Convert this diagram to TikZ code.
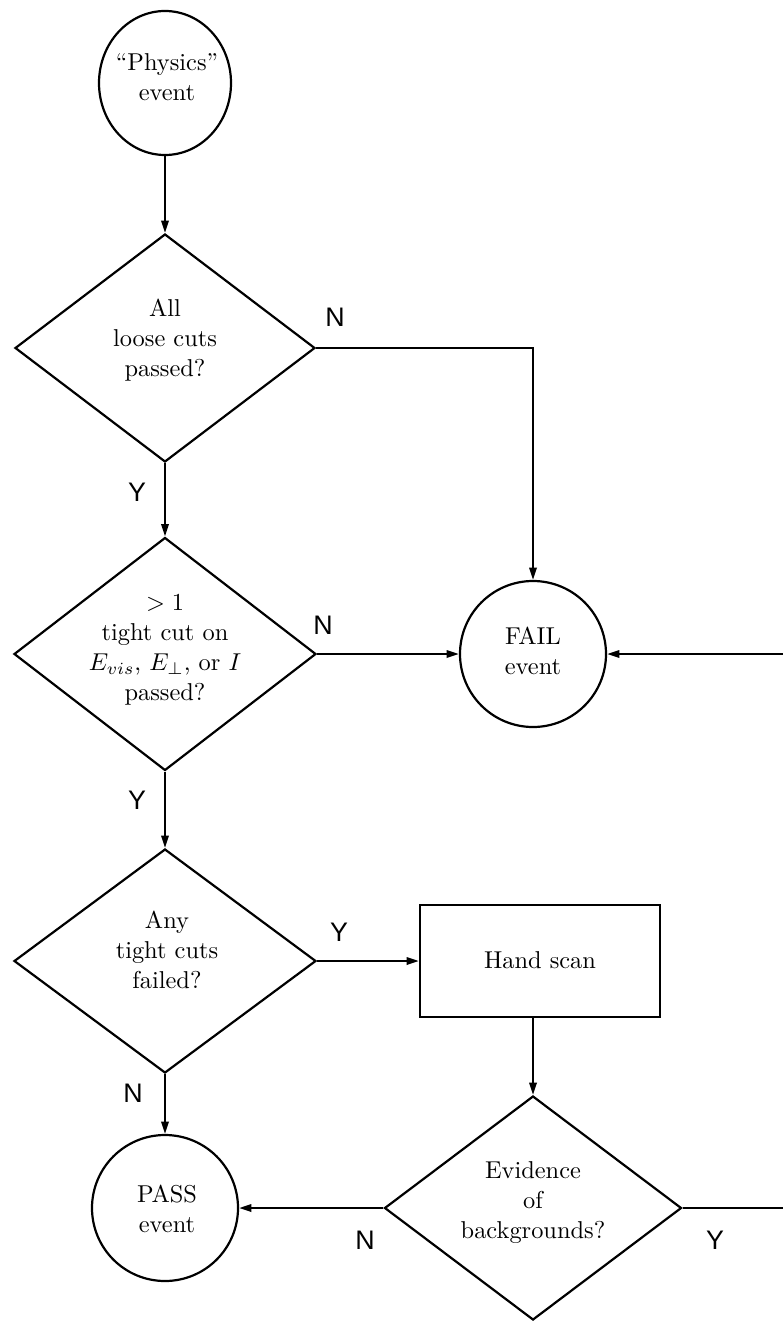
\documentclass[tikz,border=0pt]{standalone}
\usepackage{fontspec}
\newfontfamily\labelfont{Liberation Sans}
\usetikzlibrary{shapes.geometric,arrows.meta}

\begin{document}
\begin{tikzpicture}[x=0.41pt,y=-0.41pt,
  line width=0.9pt,
  flow/.style={-{Triangle[length=5pt,width=3pt]}},
  dia/.style={draw,diamond,inner sep=0pt},
  txt/.style={align=center,font=\fontsize{10}{12.3}\selectfont,inner sep=0pt},
  yn/.style={font=\labelfont\fontsize{11}{13}\selectfont,inner sep=0pt},
  ev/.style={draw,circle,inner sep=0pt,minimum size=146*0.41pt}]

\useasboundingbox (0,0) rectangle (783,1321);

% shapes
\node[draw,ellipse,inner sep=0pt,minimum width=132*0.41pt,minimum height=144*0.41pt] (phys) at (165,83) {};
\node[dia,minimum width=300*0.41pt,minimum height=228*0.41pt] (d1) at (165,348) {};
\node[dia,minimum width=302*0.41pt,minimum height=233*0.41pt] (d2) at (165,654) {};
\node[dia,minimum width=302*0.41pt,minimum height=224*0.41pt] (d3) at (165,961) {};
\node[dia,minimum width=297*0.41pt,minimum height=224*0.41pt] (d4) at (533,1208) {};
\node[ev] (fail) at (533,654) {};
\node[ev] (pass) at (165,1208) {};
\node[draw,rectangle,inner sep=0pt,minimum width=240*0.41pt,minimum height=112*0.41pt] (hand) at (540,961) {};

% texts
\node[txt] (tphys) at (167,77) {``Physics''\\event};
\node[txt] (t1) at (165,340) {All\\loose cuts\\passed?};
\node[txt] (t2) at (165,650) {$>1$\\tight cut on\\$E_{vis}$, $E_{\perp}$, or $I$\\passed?};
\node[txt] (t3) at (167,950) {Any\\tight cuts\\failed?};
\node[txt] (t4) at (533,1203) {Evidence\\of\\backgrounds?};
\node[txt] (tfail) at (533,651) {FAIL\\event};
\node[txt] (tpass) at (167,1209) {PASS\\event};
\node[txt] (thand) at (540,960) {Hand scan};

% free ends at the right margin
\coordinate (rin) at (783,654);
\coordinate (rout) at (783,1208);

% connectors
\draw[flow] (phys.south) -- (d1.north);
\draw[flow] (d1.east) -| (fail.north);
\draw[flow] (d1.south) -- (d2.north);
\draw[flow] (d2.east) -- (fail.west);
\draw[flow] (rin) -- (fail.east);
\draw[flow] (d2.south) -- (d3.north);
\draw[flow] (d3.east) -- (hand.west |- d3.east);
\draw[flow] (hand.south -| d4.north) -- (d4.north);
\draw (d4.east) -- (rout);
\draw[flow] (d4.west) -- (pass.east);
\draw[flow] (d3.south) -- (pass.north);

% branch labels
\node[yn] (n1) at (335,317) {N};
\node[yn] (y1) at (137,492) {Y};
\node[yn] (n2) at (323,625) {N};
\node[yn] (y2) at (137,800) {Y};
\node[yn] (y3) at (339,932) {Y};
\node[yn] (n3) at (133,1093) {N};
\node[yn] (n4) at (365,1240) {N};
\node[yn] (y4) at (715,1240) {Y};
\end{tikzpicture}
\end{document}
